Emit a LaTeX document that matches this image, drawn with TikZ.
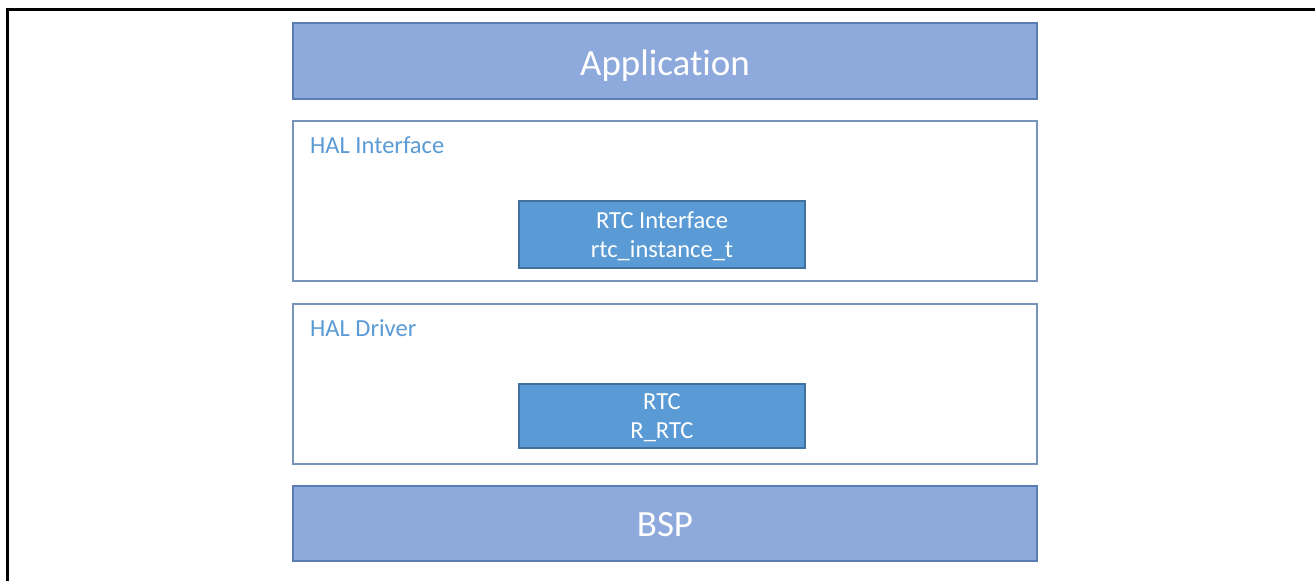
\documentclass[tikz,border=0pt]{standalone}
\usepackage{fontspec}
\setmainfont[Ligatures=NoCommon]{Carlito}
\usepackage{tikz}
\usetikzlibrary{positioning}

\definecolor{layerfill}{RGB}{142,169,219}
\definecolor{layerline}{RGB}{92,125,180}
\definecolor{halline}{RGB}{120,148,186}
\definecolor{modfill}{RGB}{91,155,213}
\definecolor{modline}{RGB}{65,113,156}
\definecolor{haltext}{RGB}{91,155,213}

\newcommand{\twolines}[2]{\begin{tabular}[t]{@{}c@{}}#1\\#2\end{tabular}}

\tikzset{
  layer/.style={draw=layerline, line width=2pt, fill=layerfill, text=white,
    minimum width=744pt, inner sep=0pt, text depth=0pt,
    font=\fontsize{37}{40}\selectfont},
  halbox/.style={draw=halline, line width=2pt, fill=white,
    minimum width=744pt, minimum height=160pt, inner sep=0pt},
  modbox/.style={draw=modline, line width=1.5pt, fill=modfill, text=white,
    minimum width=286pt, inner sep=0pt, text height=17pt,
    font=\fontsize{24.5}{29}\selectfont},
  hallabel/.style={anchor=base west, inner sep=0pt, text=haltext,
    font=\fontsize{24.5}{28}\selectfont}
}

\begin{document}
\begin{tikzpicture}[x=1pt,y=-1pt]
 \useasboundingbox (0,0) rectangle (1315,581);
 \draw[line width=3pt] (7,581) -- (7,9) -- (1315,9);

 \draw (665,61) node[layer, minimum height=76pt, text height=28pt] (app) {Application};

 \draw (665,201) node[halbox] (halif) {};
   \draw (310,153) node[hallabel] (haliflbl) {HAL Interface};
   \draw (662,234.5) node[modbox, minimum height=67pt, text depth=30pt] (rtcif) {\twolines{RTC Interface}{rtc\_instance\_t}};

 \draw (665,384) node[halbox] (haldrv) {};
   \draw (310,336) node[hallabel] (haldrvlbl) {HAL Driver};
   \draw (662,416) node[modbox, minimum height=64pt, text depth=31pt] (rtc) {\twolines{RTC}{R\_RTC}};

 \draw (665,523.5) node[layer, minimum height=75pt, text height=25pt] (bsp) {BSP};
\end{tikzpicture}
\end{document}
